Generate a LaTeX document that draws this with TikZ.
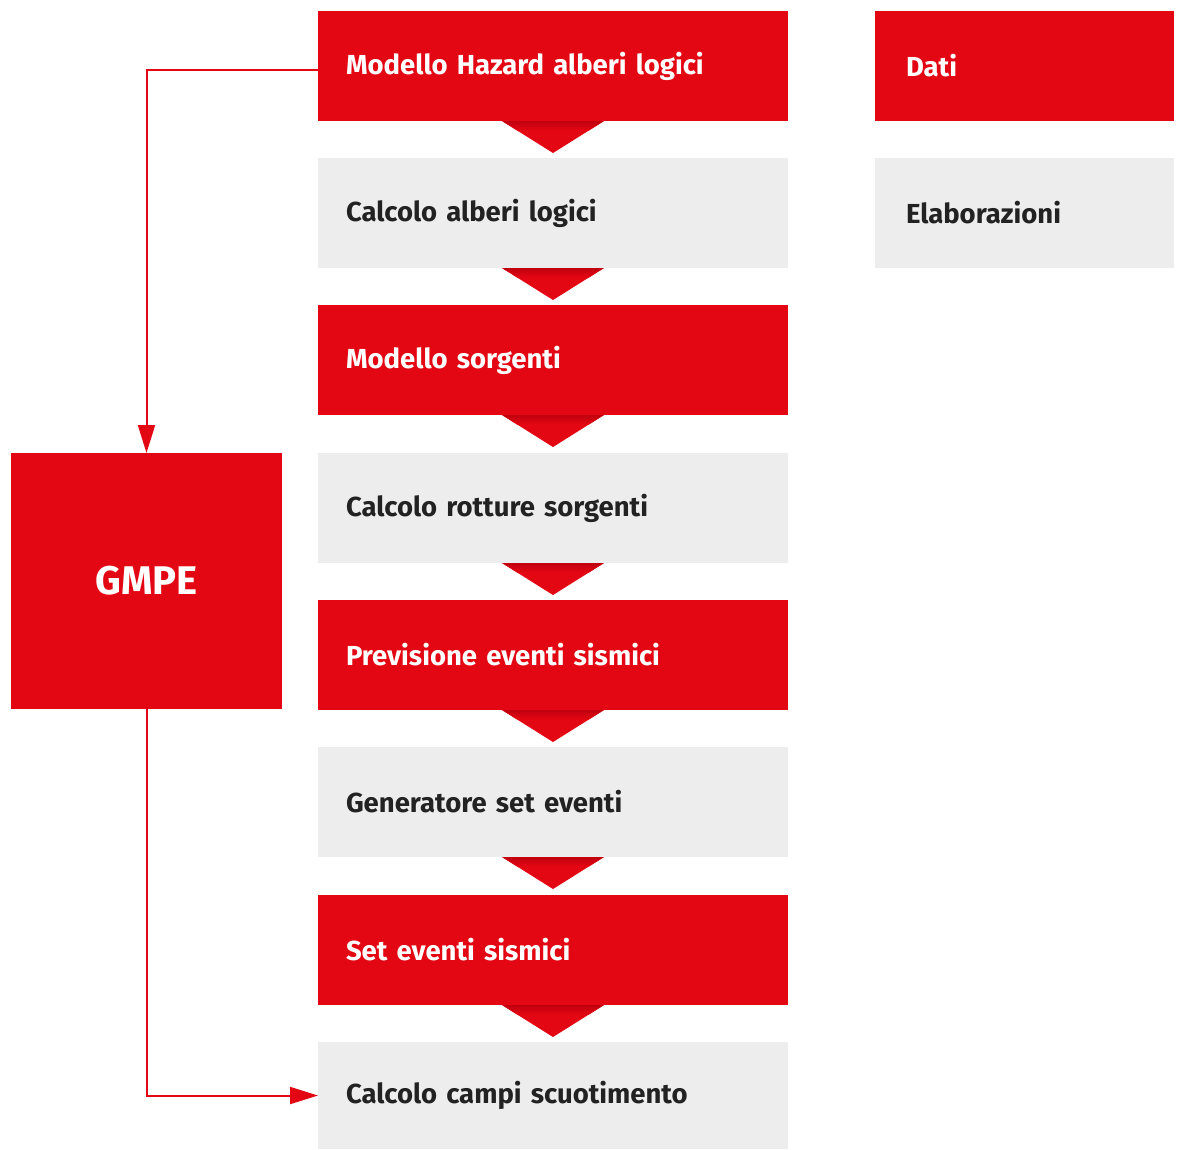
\documentclass[tikz,border=0pt]{standalone}
\usepackage{fontspec}
\setmainfont{Fira Sans}
\usetikzlibrary{arrows.meta,calc}
\definecolor{rred}{HTML}{E30613}
\definecolor{rdark}{HTML}{C0000F}
\definecolor{lgray}{HTML}{EDEDED}
\definecolor{dtext}{HTML}{222222}
\tikzset{
  box/.style={anchor=north west, minimum width=470pt, minimum height=110pt, inner xsep=28pt, inner ysep=0pt, outer sep=0pt, text width=414pt, align=left, font=\fontsize{27.5}{31}\selectfont\bfseries},
  redbox/.style={box, fill=rred, text=white},
  graybox/.style={box, fill=lgray, text=dtext},
  legbox/.style={minimum width=299pt, inner xsep=31pt, text width=237pt},
  link/.style={draw=rred, line width=2pt, -{Triangle[length=28pt,width=17pt]}},
}
\newcommand{\flowtri}[1]{%
  \fill[rred] ($(#1.south)+(-51pt,0)$) -- ($(#1.south)+(51pt,0)$) -- ($(#1.south)+(0,-32pt)$) -- cycle;
  \begin{scope}
    \clip ($(#1.south)+(-51pt,0)$) -- ($(#1.south)+(51pt,0)$) -- ($(#1.south)+(0,-32pt)$) -- cycle;
    \shade[top color=rdark, bottom color=rred] ($(#1.south)+(-51pt,0)$) rectangle ($(#1.south)+(51pt,-9pt)$);
  \end{scope}}
\begin{document}
\begin{tikzpicture}[x=1pt,y=-1pt]
\useasboundingbox (0,0) rectangle (1180,1149);
\node[redbox]  (b1) at (318,11)   {Modello Hazard alberi logici};
\node[graybox] (b2) at (318,158)  {Calcolo alberi logici};
\node[redbox]  (b3) at (318,305)  {Modello sorgenti};
\node[graybox] (b4) at (318,453)  {Calcolo rotture sorgenti};
\node[redbox]  (b5) at (318,600)  {Previsione eventi sismici};
\node[graybox] (b6) at (318,747)  {Generatore set eventi};
\node[redbox]  (b7) at (318,895)  {Set eventi sismici};
\node[graybox, minimum height=107pt] (b8) at (318,1042) {Calcolo campi scuotimento};
\node[redbox, legbox]  (dati) at (875,11)  {Dati};
\node[graybox, legbox] (elab) at (875,158) {Elaborazioni};
\node[anchor=north west, fill=rred, text=white, minimum width=271pt, minimum height=256pt, inner sep=0pt, outer sep=0pt, font=\fontsize{40}{44}\selectfont\bfseries] (gmpe) at (11,453) {GMPE};
\flowtri{b1}
\flowtri{b2}
\flowtri{b3}
\flowtri{b4}
\flowtri{b5}
\flowtri{b6}
\flowtri{b7}
\draw[link] ($(b1.west)+(0,-4pt)$) -| (gmpe.north);
\draw[link] (gmpe.south) |- (b8.west);
\end{tikzpicture}
\end{document}
